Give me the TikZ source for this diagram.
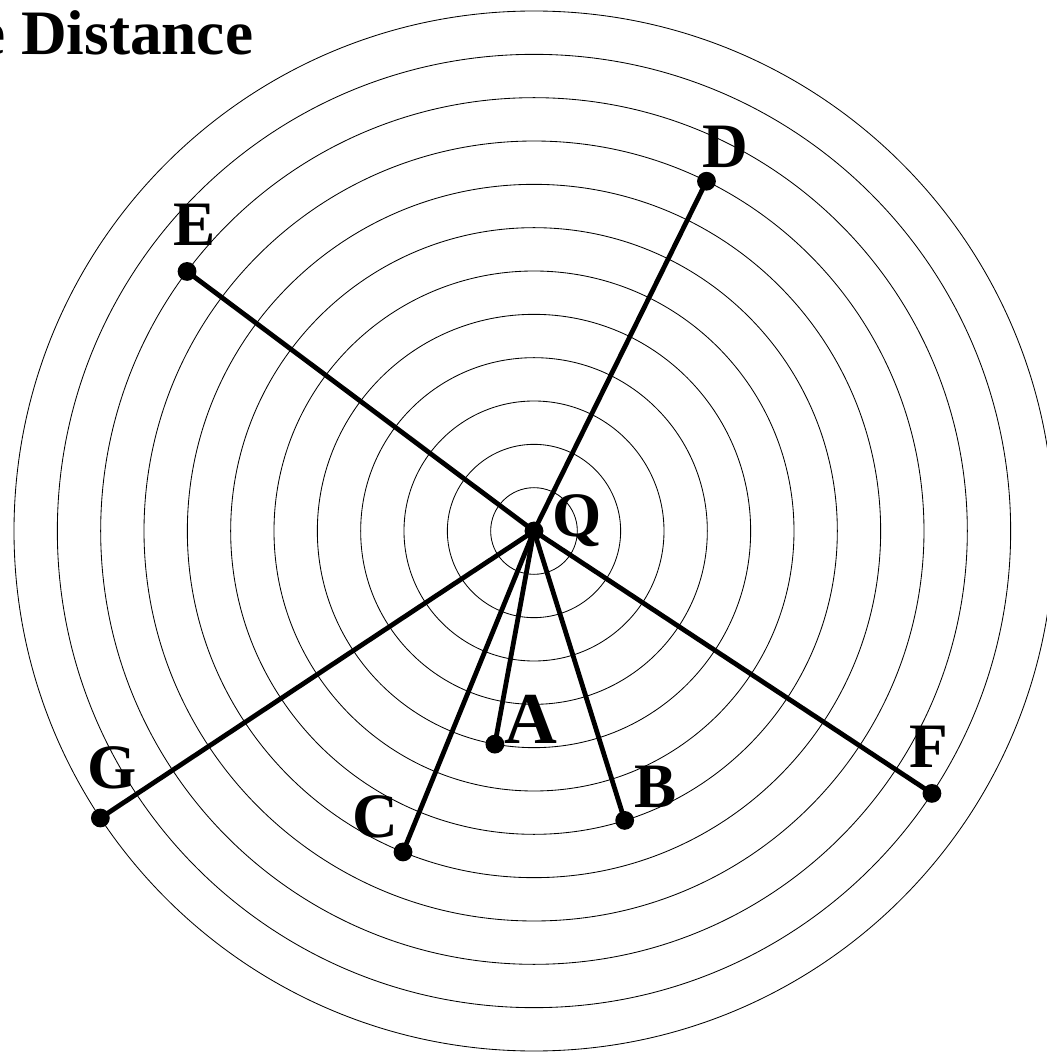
\documentclass[tikz,border=0pt]{standalone}
\usepackage{fontspec}
\setmainfont{Liberation Serif}

\tikzset{
  ring/.style={line width=0.6pt},
  spoke/.style={line width=3.4pt},
  dot/.style={circle, fill=black, inner sep=0pt, minimum size=0.47cm},
  lbl/.style={inner sep=0pt, font=\fontsize{45}{54}\selectfont\bfseries},
}

\begin{document}
\begin{tikzpicture}[x=0.025cm, y=0.025cm]

    % Frame
    \useasboundingbox (-534,-521) rectangle (512,531);

    % Title (cut at the left edge)
    \node[anchor=base west, inner sep=0pt, font=\fontsize{45}{54}\selectfont\bfseries] (title) at (-557,476) {e Distance};

    % Centre
    \coordinate (Q) at (0,0);

    % Rings, one step = 520/12
    \foreach \k in {1,...,12}
        \draw[ring] (Q) circle[radius=\k*43.333];

    % Points on the rings
    \node[dot] (A) at (259.6:216.7) {};
    \node[dot] (B) at (-72.6:303.3) {};
    \node[dot] (C) at (-112.2:346.7) {};
    \node[dot] (D) at (63.75:390) {};
    \node[dot] (E) at (143.2:433.3) {};
    \node[dot] (F) at (-33.4:476.7) {};
    \node[dot] (G) at (-146.5:520) {};

    % Distances to Q
    \foreach \p in {A,B,C,D,E,F,G}
        \draw[spoke] (Q) -- (\p.center);
    \node[dot] (Qdot) at (Q) {};

    % Labels
    \node[lbl] (labQ) at (43,10) {Q};
    \node[lbl, font=\fontsize{52}{62}\selectfont\bfseries] (labA) at (-3,-188) {A};
    \node[lbl] (labB) at (122,-256) {B};
    \node[lbl] (labC) at (-159,-286) {C};
    \node[lbl] (labD) at (191,384) {D};
    \node[lbl] (labE) at (-339,306) {E};
    \node[lbl] (labF) at (395,-216) {F};
    \node[lbl] (labG) at (-422,-237) {G};

\end{tikzpicture}
\end{document}
